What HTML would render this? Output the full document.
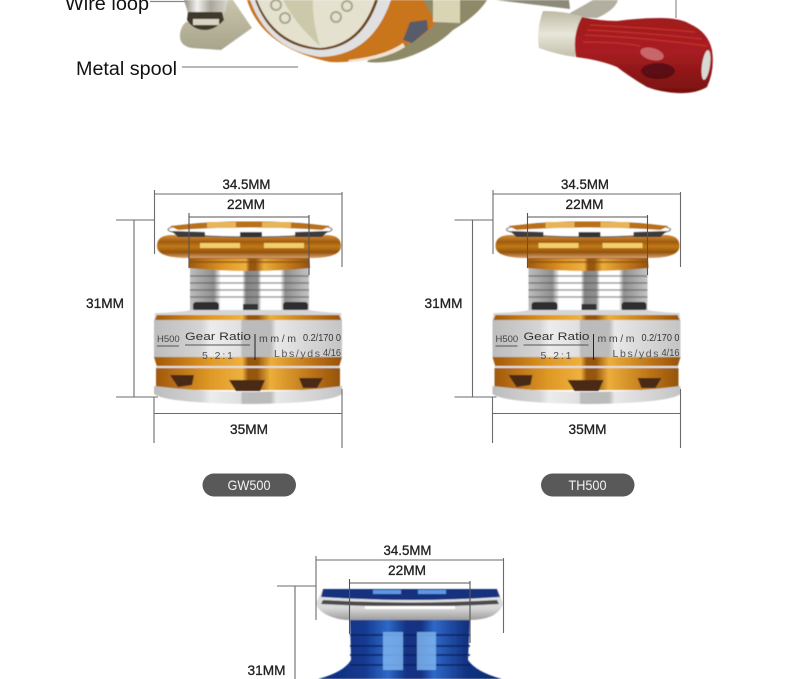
<!DOCTYPE html>
<html><head><meta charset="utf-8">
<style>
html,body{margin:0;padding:0;background:#fff;width:790px;height:679px;overflow:hidden}
svg{display:block}
text{font-family:"Liberation Sans",sans-serif;fill:#222}
.d{font-size:14px;text-anchor:middle;stroke:#222;stroke-width:.3}
</style></head>
<body>
<svg width="790" height="679" viewBox="0 0 790 679" xmlns="http://www.w3.org/2000/svg">
<defs>
<filter id="b" x="-5%" y="-5%" width="110%" height="110%"><feGaussianBlur stdDeviation="0.6"/></filter>
<linearGradient id="or" x1="0" x2="1" y1="0" y2="0">
<stop offset="0" stop-color="#a0590c"/><stop offset=".12" stop-color="#bb7216"/><stop offset=".3" stop-color="#e09a26"/><stop offset=".47" stop-color="#eeb040"/><stop offset=".5" stop-color="#96560f"/><stop offset=".55" stop-color="#96560f"/><stop offset=".62" stop-color="#ecae3a"/><stop offset=".85" stop-color="#bb7216"/><stop offset="1" stop-color="#96540c"/>
</linearGradient>
<linearGradient id="fl" x1="0" x2="0" y1="0" y2="1">
<stop offset="0" stop-color="#d28c3c"/><stop offset=".3" stop-color="#a05c0c"/><stop offset=".5" stop-color="#c07a18"/><stop offset=".75" stop-color="#955309"/><stop offset="1" stop-color="#d6a070"/>
</linearGradient>
<linearGradient id="th" x1="0" x2="1" y1="0" y2="0">
<stop offset="0" stop-color="#bdbdbd"/><stop offset=".2" stop-color="#8f8f8f"/><stop offset=".26" stop-color="#fff"/><stop offset=".44" stop-color="#fff"/><stop offset=".47" stop-color="#858585"/><stop offset=".57" stop-color="#909090"/><stop offset=".6" stop-color="#fff"/><stop offset=".76" stop-color="#fff"/><stop offset=".8" stop-color="#8f8f8f"/><stop offset="1" stop-color="#c4c4c4"/>
</linearGradient>
<linearGradient id="si" x1="0" x2="1" y1="0" y2="0">
<stop offset="0" stop-color="#bdbdbd"/><stop offset=".25" stop-color="#d4d4d4"/><stop offset=".3" stop-color="#ececec"/><stop offset=".46" stop-color="#e0e0e0"/><stop offset=".47" stop-color="#bcbcbc"/><stop offset=".62" stop-color="#bbb"/><stop offset=".65" stop-color="#e8e8e8"/><stop offset="1" stop-color="#c4c4c4"/>
</linearGradient>
<linearGradient id="bl" x1="0" x2="1" y1="0" y2="0">
<stop offset="0" stop-color="#0e2f7e"/><stop offset=".25" stop-color="#14398f"/><stop offset=".38" stop-color="#2f68c8"/><stop offset=".48" stop-color="#123383"/><stop offset=".56" stop-color="#123383"/><stop offset=".63" stop-color="#2f68c8"/><stop offset=".8" stop-color="#123383"/><stop offset="1" stop-color="#0e2b70"/>
</linearGradient>
<linearGradient id="sf" x1="0" x2="0" y1="0" y2="1">
<stop offset="0" stop-color="#e8e8e8"/><stop offset=".6" stop-color="#d8d8d8"/><stop offset="1" stop-color="#9d9d9d"/>
</linearGradient>
<linearGradient id="wood" x1="0" x2="0" y1="0" y2="1">
<stop offset="0" stop-color="#a01a1e"/><stop offset=".45" stop-color="#a81e22"/><stop offset="1" stop-color="#78100f"/>
</linearGradient>
<linearGradient id="cap" x1="0" x2="0" y1="0" y2="1">
<stop offset="0" stop-color="#bdb9a3"/><stop offset=".5" stop-color="#e8e6da"/><stop offset="1" stop-color="#c2bfa9"/>
</linearGradient>
<linearGradient id="gold" x1="0" x2="0" y1="0" y2="1">
<stop offset="0" stop-color="#c9c5ad"/><stop offset="1" stop-color="#a8a48c"/>
</linearGradient>
<linearGradient id="stem" x1="0" x2="1" y1="0" y2="0">
<stop offset="0" stop-color="#8d8a80"/><stop offset=".3" stop-color="#f2f2ee"/><stop offset=".6" stop-color="#a9a69a"/><stop offset="1" stop-color="#d9d7cc"/>
</linearGradient>

<g id="spoolO">
  <path d="M190 262H309V312H190Z" fill="url(#th)"/>
  <g stroke="#4d4d4d" stroke-width="1.400" opacity=".55"><path d="M190 276H309M190 283H309M190 290H309M190 297H309"/></g>
  <rect x="193" y="302" width="26" height="9" rx="3" fill="#2e2e2e"/><rect x="243" y="304" width="15" height="7" fill="#333"/><rect x="283" y="302" width="25" height="9" rx="3" fill="#2e2e2e"/>
  <path d="M189 256H309L310 268Q250 274 189 268Z" fill="url(#or)"/>
  <path d="M190 258H308M190 262H308" stroke="#8a4c0c" stroke-width="2" opacity=".6"/>
  <path d="M157 246Q157 235 172 235H326Q341 235 341 246Q341 258 310 258H188Q157 258 157 246Z" fill="url(#fl)"/>
  <rect x="200" y="243" width="40" height="5" fill="#f3cf6b"/><rect x="264" y="243" width="40" height="5" fill="#f3cf6b"/>
  <ellipse cx="250" cy="229.500" rx="82" ry="7.500" fill="#fff" stroke="#555" stroke-width="1"/>
  <path d="M170 226Q250 217 330 226L322 230Q250 225 178 230Z" fill="#b96f17"/>
  <path d="M207 222H236V228H207ZM262 222H291V228H262Z" fill="#e7b459"/>
  <path d="M172 231L205 232V237H178ZM328 231L295 232V237H322Z" fill="#3a3a3a"/>
  <rect x="240" y="232" width="22" height="5" fill="#333"/>
  <path d="M155 313Q185 312 190 310H309Q320 312 341 313L342 322H154Z" fill="#d5d5d5"/>
  <path d="M157 315H339L342 322H154Z" fill="url(#or)"/>
  <rect x="154" y="320" width="188" height="38" fill="url(#si)"/>
  <path d="M154 357H342L339 367H157Z" fill="url(#or)"/>
  <rect x="156" y="366" width="184" height="3" fill="#e0e0e0"/>
  <rect x="156" y="368" width="184" height="22" fill="url(#or)"/>
  <path d="M170 375H194L192 385L178 387Z" fill="#4a2a14"/><path d="M229 380H265L260 391H236Z" fill="#4a2a14"/><path d="M299 378H323L317 388H303Z" fill="#4a2a14"/>
  <path d="M154 386Q250 398 342 386V394Q330 403 250 404Q166 403 154 394Z" fill="url(#si)"/>
</g>
</defs>

<!-- reel top -->
<g filter="url(#b)">
<path d="M496 0L570 9L569 0Z" fill="#8d8a78"/>
<path d="M218 0H233L252 28L221 50L192 48Q179 46 180 34Q181 26 186 22L218 22Z" fill="url(#gold)"/>
<path d="M184 0H228L225 13H188Z" fill="url(#stem)"/>
<path d="M188 12H222L224 20Q215 30 205 30Q193 30 187 20Z" fill="#3f382c"/>
<path d="M193 19H219V25H193Z" fill="#d8d4c4"/>
<!-- gold rear body -->
<path d="M420 0H487Q478 15 453 30Q435 48 405 58Q385 64 367 62Z" fill="#8e8a68"/>
<!-- orange body -->
<path d="M247 0Q262 48 330 62Q365 64 405 46Q428 34 436 22L423 0Z" fill="#c8741a"/>
<path d="M348 60Q385 56 403 43L405 47Q385 60 350 62Z" fill="#efe3d0"/>
<path d="M403 40L410 22L427 20L428 30L412 43Z" fill="#585c68"/>
<path d="M250 0Q268 50 320 57Q372 56 391 0Z" fill="#e0e0e0"/>
<path d="M255 0Q272 47 320 50Q362 48 378 0Z" fill="#6a4418"/>
<path d="M257 0Q274 44 320 48Q360 45 375 0Z" fill="#e4e1cf"/>
<path d="M283 0Q296 25 320 46Q312 20 313 0Z" fill="#c5c3a0" opacity=".8"/>
<circle cx="276" cy="5" r="5" fill="none" stroke="#aaa58a" stroke-width="2"/><circle cx="336" cy="17" r="5" fill="none" stroke="#aaa58a" stroke-width="2"/><circle cx="347" cy="6" r="5" fill="none" stroke="#aaa58a" stroke-width="2"/><circle cx="285" cy="18" r="5" fill="none" stroke="#aaa58a" stroke-width="2"/>
<path d="M433 0H460V23L433 22Z" fill="#d9d5b4"/>
<path d="M570 13L593 0H618Q615 10 597 18L570 17Z" fill="#b3afa0"/>
<path d="M543 11Q565 11 585 17L575 57Q555 54 539 48Q536 30 543 11Z" fill="url(#cap)"/>
<path d="M582 17Q600 21 617 21Q640 18 660 18Q680 18 690 24Q708 32 712 50Q715 70 707 87Q695 94 677 93Q660 92 647 87Q630 77 617 67Q600 60 576 57Q572 35 582 17Z" fill="url(#wood)"/>
<path d="M590 25Q650 28 695 32M587 30Q650 33 702 39M585 35Q650 38 707 46M583 42Q620 42 640 46" stroke="#d8392f" stroke-width="1.200" fill="none" opacity=".7"/>
<ellipse cx="652" cy="54" rx="12" ry="6" fill="#c8666a" transform="rotate(15 652 54)"/>
<ellipse cx="658" cy="71" rx="17" ry="8" fill="#4a0c10" opacity=".75"/>
<ellipse cx="706" cy="65" rx="4" ry="15" fill="#d9d9d4" transform="rotate(8 706 65)"/>
</g>
<path d="M676 0V18" stroke="#7a7a7a" stroke-width="1"/>
<path d="M150 1.500H185" stroke="#888" stroke-width="1.200"/>
<path d="M182 67H298" stroke="#8c8c8c" stroke-width="1.300"/>
<text x="65" y="10" font-size="19" textLength="84" lengthAdjust="spacingAndGlyphs" style="fill:#111">Wire loop</text>
<text x="76" y="75" font-size="19" textLength="101" lengthAdjust="spacingAndGlyphs" style="fill:#111">Metal spool</text>

<!-- spools -->
<g filter="url(#b)"><use href="#spoolO"/><use href="#spoolO" x="338.500"/></g>

<!-- text labels on the spool bodies -->
<g font-size="10">
  <text x="157" y="342" font-size="9.500" style="fill:#444">H500</text>
  <text x="185" y="340" font-size="11" textLength="66" lengthAdjust="spacingAndGlyphs" style="fill:#333">Gear Ratio</text>
  <text x="202" y="359" font-size="10.500" textLength="31" style="fill:#555">5.2:1</text>
  <path d="M255 334V360" stroke="#222"/><path d="M185 345H250M157 346H179" stroke="#555"/>
  <text x="259" y="342" font-size="10.500" textLength="37" style="fill:#444">mm/m</text>
  <text x="303" y="341" font-size="10" textLength="38" lengthAdjust="spacingAndGlyphs" style="fill:#333">0.2/170 0</text>
  <text x="274" y="357" font-size="10.500" textLength="46" style="fill:#555">Lbs/yds</text>
  <text x="323" y="356" font-size="10" textLength="18" lengthAdjust="spacingAndGlyphs" style="fill:#444">4/16</text>
</g>
<g font-size="10" transform="translate(338.500 0)">
  <text x="157" y="342" font-size="9.500" style="fill:#444">H500</text>
  <text x="185" y="340" font-size="11" textLength="66" lengthAdjust="spacingAndGlyphs" style="fill:#333">Gear Ratio</text>
  <text x="202" y="359" font-size="10.500" textLength="31" style="fill:#555">5.2:1</text>
  <path d="M255 334V360" stroke="#222"/><path d="M185 345H250M157 346H179" stroke="#555"/>
  <text x="259" y="342" font-size="10.500" textLength="37" style="fill:#444">mm/m</text>
  <text x="303" y="341" font-size="10" textLength="38" lengthAdjust="spacingAndGlyphs" style="fill:#333">0.2/170 0</text>
  <text x="274" y="357" font-size="10.500" textLength="46" style="fill:#555">Lbs/yds</text>
  <text x="323" y="356" font-size="10" textLength="18" lengthAdjust="spacingAndGlyphs" style="fill:#444">4/16</text>
</g>

<!-- blue spool -->
<g filter="url(#b)">
<path d="M350 618H470L468 660Q476 672 502 679H318Q344 672 351 660Z" fill="url(#bl)"/>
<g stroke="#0b2460" stroke-width="1.500"><path d="M350 635H470M350 646H470M350 655H470M350 665H470"/></g>
<rect x="383" y="632" width="20" height="38" fill="#7db4f0" opacity=".85"/><rect x="417" y="632" width="19" height="38" fill="#7db4f0" opacity=".85"/>
<path d="M322 590L316 603Q318 612 332 617Q340 620 350 620H470Q482 620 492 616Q502 610 503 603L498 590Z" fill="url(#sf)"/>
<path d="M323 589H497L500 597Q410 603 321 597Z" fill="#15337f"/>
<rect x="373" y="590" width="28" height="4" fill="#5e97e6"/><rect x="418" y="590" width="28" height="4" fill="#5e97e6"/>
<path d="M323 600Q410 605 497 600L499 604Q410 609 321 604Z" fill="#4b4b4b"/>
<path d="M365 606H455V609H365Z" fill="#fff"/>
</g>

<!-- dimension lines -->
<g stroke="#6b6b6b" stroke-width="1.100" fill="none">
  <path d="M154.500 190V254M342 192V267M154.500 194H342"/>
  <path d="M189 213V268M309 215V275M189 217H309" stroke="#555"/>
  <path d="M116 220H155M134 220V397M116 397H158"/>
  <path d="M154 397V443M342 389V448M154 413.500H342"/>
</g>
<g stroke="#6b6b6b" stroke-width="1.100" fill="none" transform="translate(338.500 0)">
  <path d="M154.500 190V254M342 192V267M154.500 194H342"/>
  <path d="M189 213V268M309 215V275M189 217H309" stroke="#555"/>
  <path d="M116 220H155M134 220V397M116 397H158"/>
  <path d="M154 397V443M342 389V448M154 413.500H342"/>
</g>
<g stroke="#6b6b6b" stroke-width="1.100" fill="none">
  <path d="M316 556V620M503.500 558V633M316 560H503.500"/>
  <path d="M349.500 579V634M470 581V643M349.500 583H470" stroke="#555"/>
  <path d="M277 586H316M295 586V679"/>
</g>

<text class="d" x="246.500" y="189" textLength="48" lengthAdjust="spacingAndGlyphs">34.5MM</text>
<text class="d" x="246" y="209" textLength="38" lengthAdjust="spacingAndGlyphs">22MM</text>
<text class="d" x="105" y="308" textLength="38" lengthAdjust="spacingAndGlyphs">31MM</text>
<text class="d" x="249" y="434" textLength="38" lengthAdjust="spacingAndGlyphs">35MM</text>
<text class="d" x="585" y="189" textLength="48" lengthAdjust="spacingAndGlyphs">34.5MM</text>
<text class="d" x="584.500" y="209" textLength="38" lengthAdjust="spacingAndGlyphs">22MM</text>
<text class="d" x="443.500" y="308" textLength="38" lengthAdjust="spacingAndGlyphs">31MM</text>
<text class="d" x="587.500" y="434" textLength="38" lengthAdjust="spacingAndGlyphs">35MM</text>
<text class="d" x="407.500" y="555" textLength="48" lengthAdjust="spacingAndGlyphs">34.5MM</text>
<text class="d" x="407" y="575" textLength="38" lengthAdjust="spacingAndGlyphs">22MM</text>
<text class="d" x="266.500" y="675" textLength="38" lengthAdjust="spacingAndGlyphs">31MM</text>

<!-- pills -->
<rect x="202.500" y="473.500" width="93.500" height="23" rx="11.500" fill="#595959"/>
<rect x="541" y="473.500" width="93.500" height="23" rx="11.500" fill="#595959"/>
<text x="249" y="490" font-size="14" text-anchor="middle" textLength="43" lengthAdjust="spacingAndGlyphs" style="fill:#f2f2f2">GW500</text>
<text x="587.500" y="490" font-size="14" text-anchor="middle" textLength="38" lengthAdjust="spacingAndGlyphs" style="fill:#f2f2f2">TH500</text>
</svg>
</body></html>
